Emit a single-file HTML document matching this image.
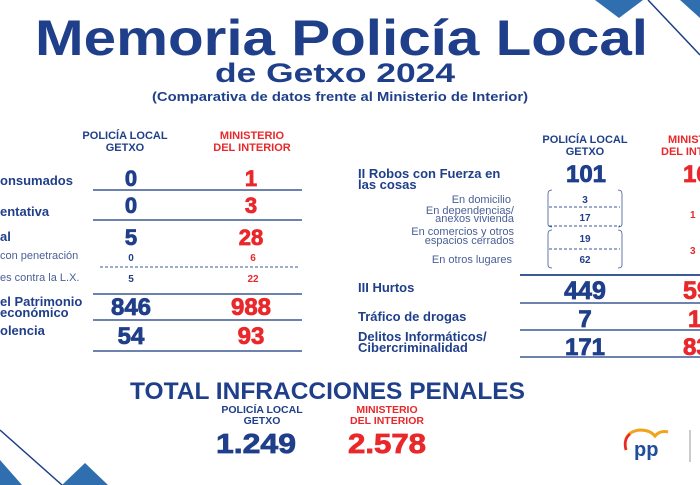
<!DOCTYPE html>
<html><head><meta charset="utf-8"><style>
html,body{margin:0;padding:0;background:#fff;}
svg{display:block;}
text{font-family:"Liberation Sans",sans-serif;font-weight:bold;}
.b{fill:#1f3f8a}.r{fill:#e8282b}.g{fill:#4a5f96;font-weight:normal}
.n{stroke-width:0.8}
.n.b{stroke:#1f3f8a}.n.r{stroke:#e8282b}
</style></head><body>
<svg width="700" height="485" viewBox="0 0 700 485" xmlns="http://www.w3.org/2000/svg">
<polygon points="595,0 643,0 619,18" fill="#2f6fb0"/>
<polygon points="680,0 700,0 700,18" fill="#2f6fb0"/>
<line x1="648" y1="0" x2="700" y2="55" stroke="#1f3f8a" stroke-width="1.5"/>
<polygon points="0,460 22,485 0,485" fill="#2f6fb0"/>
<polygon points="62,485 85,463 108,485" fill="#2f6fb0"/>
<line x1="0" y1="430" x2="62" y2="485" stroke="#1f3f8a" stroke-width="1.5"/>

<text x="35" y="55" class="b" font-size="50" textLength="613" lengthAdjust="spacingAndGlyphs">Memoria Policía Local</text>
<text x="215" y="82" class="b" font-size="27" textLength="240" lengthAdjust="spacingAndGlyphs">de Getxo 2024</text>
<text x="152" y="101" class="b" font-size="12.5" textLength="376" lengthAdjust="spacingAndGlyphs">(Comparativa de datos frente al Ministerio de Interior)</text>

<g font-size="11" text-anchor="middle">
<text x="125" y="139" class="b">POLICÍA LOCAL</text>
<text x="125" y="151" class="b">GETXO</text>
<text x="252" y="139" class="r">MINISTERIO</text>
<text x="252" y="151" class="r">DEL INTERIOR</text>
</g>
<g stroke="#3b5a96" stroke-width="1.5">
<line x1="93" y1="190" x2="302" y2="190"/>
<line x1="93" y1="220" x2="302" y2="220"/>
<line x1="93" y1="294" x2="302" y2="294"/>
<line x1="93" y1="320" x2="302" y2="320"/>
<line x1="93" y1="351" x2="302" y2="351"/>
<line x1="100" y1="267" x2="298" y2="267" stroke-dasharray="3,2" stroke-width="1"/>
</g>
<g font-size="13">
<text x="0" y="185" class="b">onsumados</text>
<text x="0" y="216" class="b">entativa</text>
<text x="0" y="241" class="b">al</text>
<text x="0" y="306" class="b">el Patrimonio</text>
<text x="0" y="317" class="b">económico</text>
<text x="0" y="335" class="b">olencia</text>
</g>
<text x="0" y="259" class="g" font-size="11">con penetración</text>
<text x="0" y="281" class="g" font-size="11">es contra la L.X.</text>
<g text-anchor="middle">
<text x="131" y="186" class="b n" font-size="22">0</text>
<text x="251" y="186" class="r n" font-size="22">1</text>
<text x="131" y="213" class="b n" font-size="22">0</text>
<text x="251" y="213" class="r n" font-size="22">3</text>
<text x="131" y="245" class="b n" font-size="22">5</text>
<text x="251" y="245" class="r n" font-size="22">28</text>
<text x="131" y="261" class="b" font-size="10">0</text>
<text x="253" y="261" class="r" font-size="10">6</text>
<text x="131" y="282" class="b" font-size="10">5</text>
<text x="253" y="282" class="r" font-size="10">22</text>
<text x="131" y="315" class="b n" font-size="24">846</text>
<text x="251" y="315" class="r n" font-size="24">988</text>
<text x="131" y="344" class="b n" font-size="24">54</text>
<text x="251" y="344" class="r n" font-size="24">93</text>
</g>

<g font-size="11" text-anchor="middle">
<text x="585" y="143" class="b">POLICÍA LOCAL</text>
<text x="585" y="155" class="b">GETXO</text>
<text x="668" y="143" class="r" text-anchor="start">MINISTERIO</text>
<text x="661" y="155" class="r" text-anchor="start">DEL INTERIOR</text>
</g>
<g font-size="13">
<text x="358" y="178" class="b">II Robos con Fuerza en</text>
<text x="358" y="189" class="b">las cosas</text>
<text x="358" y="292" class="b">III Hurtos</text>
<text x="358" y="321" class="b">Tráfico de drogas</text>
<text x="358" y="341" class="b">Delitos Informáticos/</text>
<text x="358" y="352" class="b">Cibercriminalidad</text>
</g>
<g font-size="11" text-anchor="end">
<text x="511" y="203" class="g">En domicilio</text>
<text x="514" y="214" class="g">En dependencias/</text>
<text x="514" y="222" class="g">anexos vivienda</text>
<text x="514" y="235" class="g">En comercios y otros</text>
<text x="514" y="244" class="g">espacios cerrados</text>
<text x="512" y="263" class="g">En otros lugares</text>
</g>
<g stroke="#3b5a96" fill="none">
<line x1="549" y1="207" x2="620" y2="207" stroke-dasharray="3,2"/>
<line x1="549" y1="226" x2="620" y2="226" stroke-dasharray="3,2"/>
<line x1="549" y1="249" x2="620" y2="249" stroke-dasharray="3,2"/>
<path d="M552,190 Q548,190 548,194 L548,224 Q548,227 552,227" stroke-width="0.8"/>
<path d="M618,190 Q622,190 622,194 L622,224 Q622,227 618,227" stroke-width="0.8"/>
<path d="M552,230 Q548,230 548,234 L548,265 Q548,268 552,268" stroke-width="0.8"/>
<path d="M618,230 Q622,230 622,234 L622,265 Q622,268 618,268" stroke-width="0.8"/>
<line x1="520" y1="275" x2="700" y2="275" stroke-width="2"/>
<line x1="520" y1="303" x2="700" y2="303" stroke-width="1.5"/>
<line x1="520" y1="330" x2="700" y2="330" stroke-width="1.5"/>
<line x1="520" y1="357" x2="700" y2="357" stroke-width="1.5"/>
</g>
<g text-anchor="middle">
<text x="586" y="182" class="b n" font-size="24">101</text>
<text x="585" y="203" class="b" font-size="10">3</text>
<text x="585" y="221" class="b" font-size="10">17</text>
<text x="585" y="242" class="b" font-size="10">19</text>
<text x="585" y="263" class="b" font-size="10">62</text>
<text x="585" y="299" class="b n" font-size="25">449</text>
<text x="585" y="327" class="b n" font-size="24">7</text>
<text x="585" y="355" class="b n" font-size="24">171</text>
</g>
<g text-anchor="start">
<text x="683" y="182" class="r n" font-size="24">16</text>
<text x="690" y="218" class="r" font-size="10">1</text>
<text x="690" y="254" class="r" font-size="10">3</text>
<text x="683" y="299" class="r n" font-size="25">59</text>
<text x="688" y="327" class="r n" font-size="24">1</text>
<text x="683" y="355" class="r n" font-size="24">83</text>
</g>

<text x="130" y="399" class="b" font-size="24" textLength="395" lengthAdjust="spacingAndGlyphs">TOTAL INFRACCIONES PENALES</text>
<g font-size="10.5" text-anchor="middle">
<text x="262" y="413" class="b">POLICÍA LOCAL</text>
<text x="262" y="424" class="b">GETXO</text>
<text x="387" y="413" class="r">MINISTERIO</text>
<text x="387" y="424" class="r">DEL INTERIOR</text>
</g>
<text x="256" y="453" class="b n" font-size="28" text-anchor="middle" textLength="80" lengthAdjust="spacingAndGlyphs">1.249</text>
<text x="387" y="453" class="r n" font-size="28" text-anchor="middle" textLength="78" lengthAdjust="spacingAndGlyphs">2.578</text>

<path d="M626,450 Q622,432 640,430 Q650,430 655,436 Q660,430 668,432" fill="none" stroke="#f2a31c" stroke-width="3"/>
<path d="M626,450 Q623,440 630,434" fill="none" stroke="#e8282b" stroke-width="2.5"/>
<text x="634" y="456" font-size="20" fill="#1f4e9a">pp</text>
<line x1="690" y1="430" x2="690" y2="462" stroke="#999" stroke-width="1"/>
</svg>
</body></html>
